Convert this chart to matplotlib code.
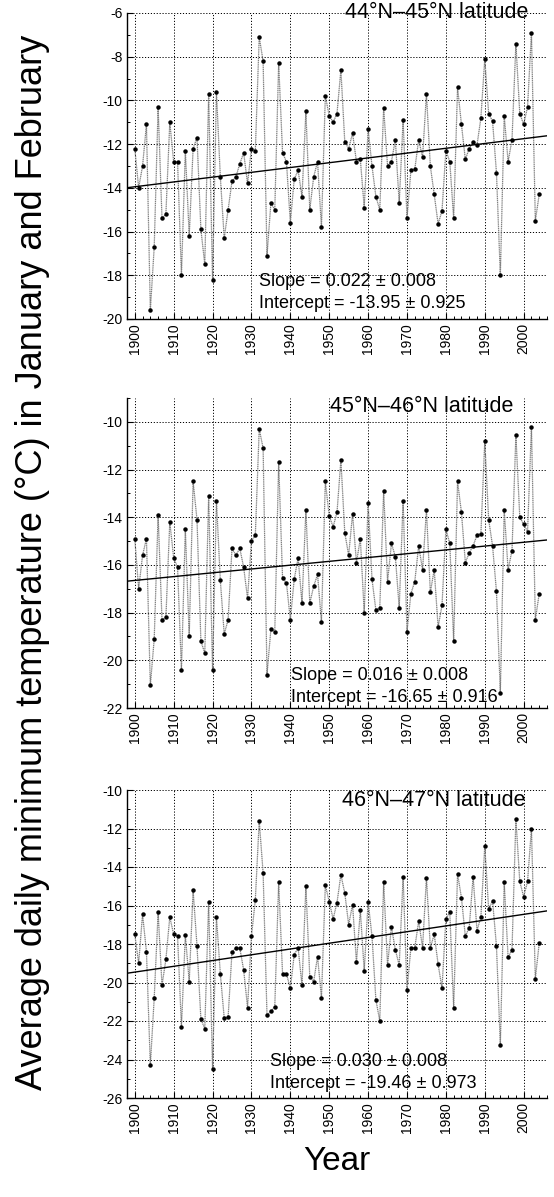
import numpy as np
import matplotlib
matplotlib.use("Agg")
import matplotlib.pyplot as plt
from matplotlib.ticker import MultipleLocator

plt.rcParams['font.family'] = ['Liberation Sans', 'DejaVu Sans']
plt.rcParams['axes.unicode_minus'] = False

years = list(range(1900, 2005))

t44 = [-12.2, -14.0, -13.0, -11.1, -19.6, -16.7, -10.3, -15.4, -15.2, -11.0,
       -12.8, -12.8, -18.0, -12.3, -16.2, -12.2, -11.7, -15.9, -17.5, -9.7,
       -18.2, -9.6, -13.5, -16.3, -15.0, -13.7, -13.5, -12.9, -12.4, -13.8,
       -12.2, -12.3, -7.1, -8.2, -17.1, -14.7, -15.0, -8.3, -12.4, -12.8,
       -15.6, -13.6, -13.2, -14.4, -10.5, -15.0, -13.5, -12.8, -15.8, -9.8,
       -10.7, -11.0, -10.6, -8.6, -11.9, -12.2, -11.5, -12.8, -12.7, -14.9,
       -11.3, -13.0, -14.4, -15.0, -10.35, -13.0, -12.8, -11.8, -14.7, -10.9,
       -15.4, -13.2, -13.15, -11.8, -12.6, -9.7, -13.0, -14.3, -15.65, -15.05,
       -12.3, -12.8, -15.4, -9.4, -11.1, -12.7, -12.2, -11.9, -12.05, -10.8,
       -8.1, -10.6, -10.95, -13.3, -18.0, -10.7, -12.8, -11.8, -7.4, -10.6,
       -11.1, -10.3, -6.9, -15.5, -14.3]

t45 = [-14.9, -17.0, -15.6, -14.9, -21.05, -19.1, -13.9, -18.3, -18.2, -14.2,
       -15.7, -16.1, -20.4, -14.5, -19.0, -12.5, -14.1, -19.2, -19.7, -13.1,
       -20.4, -13.3, -16.65, -18.9, -18.3, -15.3, -15.6, -15.3, -16.1, -17.4,
       -15.0, -14.75, -10.3, -11.1, -20.6, -18.7, -18.8, -11.7, -16.55, -16.75,
       -18.3, -16.6, -15.7, -17.6, -13.7, -17.6, -16.9, -16.4, -18.4, -12.5,
       -13.95, -14.4, -13.8, -11.6, -14.65, -15.6, -13.85, -15.9, -14.9, -18.0,
       -13.4, -16.6, -17.9, -17.8, -12.9, -16.7, -15.1, -15.65, -17.8, -13.3,
       -18.8, -17.2, -16.7, -15.2, -16.2, -13.7, -17.15, -16.2, -18.6, -17.7,
       -14.5, -15.1, -19.2, -12.5, -13.8, -15.9, -15.5, -15.2, -14.75, -14.7,
       -10.8, -14.1, -15.2, -17.1, -21.35, -13.7, -16.2, -15.4, -10.55, -14.0,
       -14.3, -14.6, -10.2, -18.3, -17.2]

t46 = [-17.5, -19.0, -16.45, -18.4, -24.3, -20.8, -16.35, -20.15, -18.8, -16.6,
       -17.5, -17.6, -22.3, -17.55, -19.95, -15.2, -18.1, -21.9, -22.4, -15.8,
       -24.5, -16.6, -19.55, -21.85, -21.8, -18.4, -18.2, -18.2, -19.35, -21.3,
       -17.6, -15.7, -11.6, -14.3, -21.7, -21.5, -21.25, -14.8, -19.55, -19.55,
       -20.3, -18.55, -18.2, -20.15, -15.0, -19.7, -19.95, -18.65, -20.8, -14.95,
       -15.8, -16.7, -15.85, -14.4, -15.35, -17.0, -15.95, -18.95, -16.25, -19.4,
       -15.8, -17.6, -20.9, -22.0, -14.8, -19.1, -17.1, -18.3, -19.1, -14.5,
       -20.4, -18.2, -18.2, -16.8, -18.2, -14.55, -18.2, -17.5, -19.05, -20.3,
       -16.7, -16.35, -21.3, -14.35, -15.6, -17.6, -17.15, -14.5, -17.3, -16.6,
       -12.9, -16.2, -15.75, -18.1, -23.25, -14.8, -18.7, -18.3, -11.5, -14.75,
       -15.55, -14.75, -12.0, -19.8, -17.95]

titles = ["44°N–45°N latitude", "45°N–46°N latitude", "46°N–47°N latitude"]
slopes = [0.022, 0.016, 0.030]
slope_err = [0.008, 0.008, 0.008]
intercepts = [-13.95, -16.65, -19.46]
intercept_err = [0.925, 0.916, 0.973]
ylims = [(-20, -6), (-22, -9), (-26, -10)]
yticks = [list(range(-20, -5, 2)), list(range(-22, -9, 2)), list(range(-26, -9, 2))]
xticks = list(range(1900, 2001, 10))

W, H = 554, 1197
fig = plt.figure(figsize=(W / 100, H / 100), dpi=100)

# pixel boxes (left, top, right, bottom)
boxes = [(127, 13, 547, 319), (127, 398, 547, 708), (127, 790, 547, 1098)]
title_pos = [(528, 18), (513, 412), (525, 806)]
slope_pos = [(259, 286, 308), (291, 680, 702), (270, 1066, 1088)]

series = [t44, t45, t46]
for i in range(3):
    l, t, r, b = boxes[i]
    ax = fig.add_axes([l / W, 1 - b / H, (r - l) / W, (b - t) / H])
    ax.set_xlim(1898, 2006)
    ax.set_ylim(*ylims[i])
    for s in ['top', 'right']:
        ax.spines[s].set_visible(False)
    ax.spines['left'].set_linewidth(1.0)
    ax.spines['bottom'].set_linewidth(1.0)
    ax.set_xticks(xticks)
    ax.set_xticklabels([str(x) for x in xticks], rotation=90)
    ax.xaxis.set_minor_locator(MultipleLocator(2))
    ax.set_yticks(yticks[i])
    ax.set_yticklabels([str(v) for v in yticks[i]])
    ax.yaxis.set_minor_locator(MultipleLocator(1))
    ax.tick_params(which='both', direction='in', labelsize=10, pad=3)
    ax.tick_params(which='major', length=4, width=0.8)
    ax.tick_params(which='minor', length=2.5, width=0.7)
    ax.grid(True, which='major', color='k', linestyle=(0, (1.2, 1.8)), linewidth=0.7)
    ax.set_axisbelow(True)

    ax.plot(years, series[i], color='0.5', lw=0.9, linestyle=(0, (1, 0.5)), zorder=3)
    ax.plot(years, series[i], linestyle='none', marker='o', ms=2.2, color='k', zorder=4)

    xx = np.array([1898, 2006])
    ax.plot(xx, intercepts[i] + slopes[i] * (xx - 1900), color='k', lw=1.0, zorder=5)

    tx, ty = title_pos[i]
    fig.text(tx / W, 1 - ty / H, titles[i], ha='right', va='baseline', fontsize=15.5)
    sx, sy1, sy2 = slope_pos[i]
    fig.text(sx / W, 1 - sy1 / H, f"Slope = {slopes[i]:.3f} ± {slope_err[i]:.3f}",
             ha='left', va='baseline', fontsize=13)
    fig.text(sx / W, 1 - sy2 / H, f"Intercept = {intercepts[i]:.2f} ± {intercept_err[i]:.3f}",
             ha='left', va='baseline', fontsize=13)

fig.text(33 / W, 1 - 562 / H, "Average daily minimum temperature (°C) in January and February",
         rotation=90, ha='center', va='center', fontsize=26)
fig.text(337 / W, 1 - 1162 / H, "Year", ha='center', va='center', fontsize=24)

fig.savefig("out.png", dpi=100)
